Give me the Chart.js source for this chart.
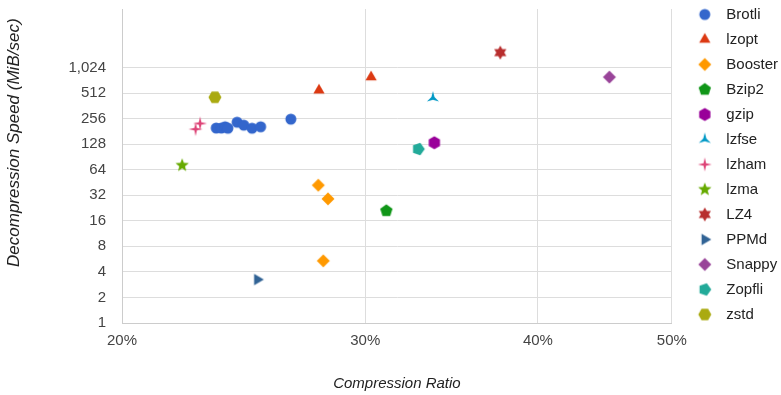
<!DOCTYPE html>
<html>
<head>
<meta charset="utf-8">
<script src="https://cdn.jsdelivr.net/npm/chart.js@4"></script>
<style>
  html, body { margin: 0; padding: 0; background: #fff; }
  #wrap { width: 781px; height: 395px; }
</style>
</head>
<body>
<div id="wrap"><canvas id="ratioChart"></canvas></div>
<script>
// [compression ratio %, decompression speed MiB/s]
const brotli = [[23.4, 198], [23.6, 198], [23.75, 205], [23.86, 197], [24.23, 232], [24.5, 214], [24.84, 197], [25.2, 205], [26.5, 252]];
const lzopt = [[27.77, 551], [30.29, 788]];
const booster = [[27.74, 42], [28.19, 29], [27.97, 5.4]];
const bzip2 = [[31.07, 21]];
const gzip = [[33.66, 133]];
const lzfse = [[33.58, 447]];
const lzham = [[22.61, 192], [22.78, 224]];
const lzma = [[22.11, 72]];
const lz4 = [[37.57, 1533]];
const ppmd = [[25.06, 3.25]];
const snappy = [[45.06, 788]];
const zopfli = [[32.77, 112]];
const zstd = [[23.35, 456]];

const xTicks = [20, 30, 40, 50];
const yTicks = [1, 2, 4, 8, 16, 32, 64, 128, 256, 512, 1024];

const FONT = '"Liberation Sans", Arial, sans-serif';
const LEGEND_BOX = 37;

// marker image: n points (0 = circle), outer radius, inner radius (null = plain polygon), start angle
function marker(color, shape, w, cx) {
  const [n, r, inner, start] = shape;
  const h = 16;
  const c = document.createElement('canvas');
  c.width = w;
  c.height = h;
  const g = c.getContext('2d');
  g.fillStyle = color;
  g.translate(cx, h / 2);
  g.beginPath();
  if (n === 0) {
    g.arc(0, 0, r, 0, Math.PI * 2);
  } else {
    const steps = inner ? n * 2 : n;
    for (let i = 0; i < steps; i++) {
      const a = start + (i * Math.PI * 2) / steps;
      const rr = inner && i % 2 ? inner : r;
      g.lineTo(Math.cos(a) * rr, Math.sin(a) * rr);
    }
    g.closePath();
  }
  g.fill();
  return c;
}

const UP = -Math.PI / 2;

const series = [
  { label: 'Brotli', data: brotli, color: '#3366cc', shape: [0, 5.5, null, 0] },
  { label: 'lzopt', data: lzopt, color: '#dc3912', shape: [3, 6.5, null, UP] },
  { label: 'Booster', data: booster, color: '#ff9900', shape: [4, 6.5, null, UP] },
  { label: 'Bzip2', data: bzip2, color: '#109618', shape: [5, 6.5, null, UP] },
  { label: 'gzip', data: gzip, color: '#990099', shape: [6, 6.5, null, UP] },
  { label: 'lzfse', data: lzfse, color: '#0099c6', shape: [3, 7, 1.8, UP] },
  { label: 'lzham', data: lzham, color: '#dd4477', shape: [4, 7, 1.8, UP] },
  { label: 'lzma', data: lzma, color: '#66aa00', shape: [5, 7, 3, UP] },
  { label: 'LZ4', data: lz4, color: '#b82e2e', shape: [6, 7, 4, UP] },
  { label: 'PPMd', data: ppmd, color: '#316395', shape: [3, 6.5, null, 0] },
  { label: 'Snappy', data: snappy, color: '#994499', shape: [4, 6.5, null, UP] },
  { label: 'Zopfli', data: zopfli, color: '#22aa99', shape: [5, 6.5, null, 0] },
  { label: 'zstd', data: zstd, color: '#aaaa11', shape: [6, 6.5, null, 0] },
];

const datasets = series.map((s) => ({
  label: s.label,
  data: s.data.map((p) => ({ x: p[0], y: p[1] })),
  backgroundColor: s.color,
  borderColor: s.color,
  pointStyle: marker(s.color, s.shape, 16, 8),
  showLine: false,
}));

// legend markers sit a bit right of the box centre
const legendMarkers = series.map((s) => marker(s.color, s.shape, LEGEND_BOX, LEGEND_BOX / 2 + 4.5));

const ctx = document.getElementById('ratioChart').getContext('2d');

new Chart(ctx, {
  type: 'scatter',
  data: { datasets },
  options: {
    responsive: true,
    maintainAspectRatio: false,
    animation: false,
    layout: { padding: { top: -3, right: -7, bottom: 0, left: 0 } },
    plugins: {
      tooltip: { enabled: false },
      legend: {
        position: 'right',
        align: 'start',
        labels: {
          usePointStyle: true,
          pointStyleWidth: LEGEND_BOX,
          boxHeight: 15,
          padding: 10,
          color: '#222',
          font: { family: FONT, size: 15 },
          generateLabels: (chart) =>
            Chart.defaults.plugins.legend.labels
              .generateLabels(chart)
              .map((item, i) => ({ ...item, pointStyle: legendMarkers[i] })),
        },
      },
    },
    scales: {
      x: {
        type: 'logarithmic',
        min: 20,
        max: 50,
        afterBuildTicks: (scale) => {
          scale.ticks = xTicks.map((v) => ({ value: v }));
        },
        afterFit: (scale) => {
          scale.height = 72;
        },
        grid: { color: '#dddddd', drawTicks: false },
        border: { color: '#cccccc' },
        ticks: {
          autoSkip: false,
          maxRotation: 0,
          padding: 9,
          color: '#444',
          font: { family: FONT, size: 15 },
          callback: (v) => v + '%',
        },
        title: {
          display: true,
          text: 'Compression Ratio',
          color: '#222',
          padding: { top: 0, bottom: 2 },
          font: { family: FONT, size: 15, style: 'italic' },
        },
      },
      xTop: {
        type: 'linear',
        position: 'top',
        display: true,
        grid: { display: false },
        border: { display: false },
        ticks: { display: false },
        afterFit: (scale) => {
          scale.height = 10;
        },
      },
      y: {
        type: 'logarithmic',
        min: 1,
        max: 5000,
        afterBuildTicks: (scale) => {
          scale.ticks = yTicks.map((v) => ({ value: v }));
        },
        afterFit: (scale) => {
          scale.width = 122;
        },
        // invisible tick marks push the labels off the plot edge
        grid: { color: '#dddddd', drawTicks: true, tickLength: 16, tickColor: 'rgba(0,0,0,0)' },
        border: { color: '#cccccc' },
        ticks: {
          autoSkip: false,
          padding: 0,
          color: '#444',
          font: { family: FONT, size: 15 },
          callback: (v) => Number(v).toLocaleString('en-US'),
        },
        title: {
          display: true,
          // trailing spaces nudge the end-aligned title down a little
          text: 'Decompression Speed (MiB/sec)  ',
          align: 'end',
          color: '#222',
          padding: { top: 4, bottom: 0 },
          font: { family: FONT, size: 17, style: 'italic' },
        },
      },
    },
  },
});
</script>
</body>
</html>
